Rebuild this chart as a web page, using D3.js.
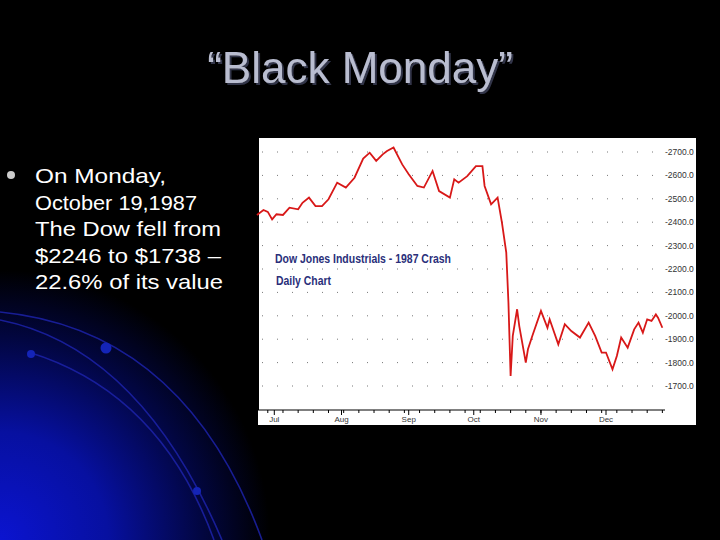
<!DOCTYPE html>
<html><head><meta charset="utf-8">
<script src="https://cdn.jsdelivr.net/npm/d3@7"></script>
<style>body{margin:0;background:#000}svg{display:block}</style>
</head><body>
<script>
const dates = ["1987-06-23","1987-06-26","1987-06-28","1987-06-30","1987-07-02","1987-07-05","1987-07-08","1987-07-12","1987-07-14","1987-07-17","1987-07-20","1987-07-23","1987-07-26","1987-07-30","1987-08-03","1987-08-07","1987-08-11","1987-08-14","1987-08-17","1987-08-20","1987-08-22","1987-08-25","1987-08-29","1987-09-01","1987-09-05","1987-09-08","1987-09-12","1987-09-15","1987-09-20","1987-09-22","1987-09-24","1987-09-28","1987-10-02","1987-10-05","1987-10-06","1987-10-09","1987-10-12","1987-10-14","1987-10-16","1987-10-17","1987-10-18","1987-10-19","1987-10-21","1987-10-22","1987-10-25","1987-10-26","1987-10-28","1987-11-01","1987-11-04","1987-11-05","1987-11-09","1987-11-12","1987-11-15","1987-11-19","1987-11-23","1987-11-26","1987-11-29","1987-12-01","1987-12-04","1987-12-06","1987-12-08","1987-12-11","1987-12-14","1987-12-16","1987-12-18","1987-12-20","1987-12-22","1987-12-24","1987-12-25","1987-12-27"];
const values = [2431,2452,2444,2412,2434,2431,2462,2455,2483,2505,2469,2469,2498,2569,2548,2590,2672,2697,2662,2690,2704,2719,2647,2605,2555,2548,2619,2533,2505,2583,2569,2597,2640,2640,2555,2476,2505,2398,2270,2056,1743,1914,2028,1956,1800,1857,1914,2021,1949,1985,1878,1964,1935,1907,1971,1914,1843,1843,1771,1828,1907,1864,1942,1971,1928,1985,1978,2006,1992,1949];
const yTicks = [2700,2600,2500,2400,2300,2200,2100,2000,1900,1800,1700];
const monthLabels = ["Jul","Aug","Sep","Oct","Nov","Dec"];
const bulletLines = ["On Monday,","October 19,1987","The Dow fell from","$2246 to $1738 –","22.6% of its value"];

const svg = d3.select("body").append("svg").attr("width",720).attr("height",540);
const defs = svg.append("defs");
const rg = defs.append("radialGradient").attr("id","bg").attr("gradientUnits","userSpaceOnUse")
  .attr("cx",0).attr("cy",540).attr("r",270);
rg.append("stop").attr("offset","0%").attr("stop-color","#0b14d0");
rg.append("stop").attr("offset","40%").attr("stop-color","#0710a0");
rg.append("stop").attr("offset","75%").attr("stop-color","#020640");
rg.append("stop").attr("offset","100%").attr("stop-color","#000");
const sh = defs.append("filter").attr("id","sh");
sh.append("feDropShadow").attr("dx",2).attr("dy",2).attr("stdDeviation",0.5).attr("flood-color","#30344a");
svg.append("rect").attr("width",720).attr("height",540).attr("fill","#000");
svg.append("rect").attr("y",270).attr("width",270).attr("height",270).attr("fill","url(#bg)");
const arcs = ["M0,312 Q185,330 262,540","M0,320 Q140,348 222,540","M28,352 Q160,392 214,540"];
svg.selectAll(".arc").data(arcs).join("path").attr("d",d=>d).attr("fill","none").attr("stroke","#1c22a8").attr("stroke-width",1.6).attr("opacity",0.85);
[[106,348,5.5],[31,354,4],[197,491,4]].forEach(c=>svg.append("circle").attr("cx",c[0]).attr("cy",c[1]).attr("r",c[2]).attr("fill","#1424b8"));

svg.append("text").attr("x",360).attr("y",83).attr("text-anchor","middle").attr("font-family","Liberation Sans, Arial").attr("font-size",44).attr("fill","#b9bdd0").attr("filter","url(#sh)").text("“Black Monday”");

svg.append("circle").attr("cx",11).attr("cy",175).attr("r",4).attr("fill","#ccc");
svg.selectAll(".bl").data(bulletLines).join("text").attr("x",35).attr("y",(d,i)=>183+i*26.5)
  .attr("font-family","Liberation Sans, Arial").attr("font-size",21).attr("fill","#fff")
  .attr("textLength",(d,i)=>[131,162,186,186,188][i]).attr("lengthAdjust","spacingAndGlyphs").text(d=>d);

// chart
svg.append("rect").attr("x",258).attr("y",138).attr("width",438).attr("height",287).attr("fill","#fff");
const parse = d3.timeParse("%Y-%m-%d");
const x = d3.scaleTime().domain([parse("1987-07-01"),parse("1987-12-01")]).range([274.3,606]);
const y = d3.scaleLinear().domain([1700,2700]).range([386,152]);
const g = svg.append("g");
g.selectAll(".gl").data(yTicks).join("line").attr("x1",262).attr("x2",660).attr("y1",d=>y(d)).attr("y2",d=>y(d))
  .attr("stroke","#777").attr("stroke-width",1).attr("stroke-dasharray","1,14");
g.selectAll(".yl").data(yTicks).join("text").attr("x",665).attr("y",d=>y(d)+3).attr("font-family","Liberation Sans, Arial")
  .attr("font-size",8.5).attr("fill","#333").text(d=>"-"+d.toFixed(1));
const xa = g.append("g").attr("transform","translate(0,410)");
xa.append("line").attr("x1",258).attr("x2",665).attr("stroke","#000");
const weeks = d3.timeWeek.range(parse("1987-06-25"),parse("1987-12-31"));
xa.selectAll(".wt").data(weeks).join("line").attr("x1",d=>x(d)).attr("x2",d=>x(d)).attr("y1",0).attr("y2",3).attr("stroke","#000");
const months = d3.timeMonth.range(parse("1987-07-01"),parse("1987-12-02"));
xa.selectAll(".mt").data(months).join("line").attr("x1",d=>x(d)).attr("x2",d=>x(d)).attr("y1",0).attr("y2",5).attr("stroke","#000");
xa.selectAll(".ml").data(months).join("text").attr("x",d=>x(d)).attr("y",12).attr("text-anchor","middle")
  .attr("font-family","Liberation Sans, Arial").attr("font-size",8).attr("fill","#333").text((d,i)=>monthLabels[i]);
g.append("line").attr("x1",258.5).attr("x2",258.5).attr("y1",138).attr("y2",410).attr("stroke","#000");

const data = dates.map((d,i)=>({d:parse(d),v:values[i]}));
g.append("path").datum(data).attr("d",d3.line().x(p=>x(p.d)).y(p=>y(p.v)))
  .attr("fill","none").attr("stroke","#d81818").attr("stroke-width",1.8);

g.append("text").attr("x",275).attr("y",263).attr("font-family","Liberation Sans, Arial").attr("font-size",12).attr("font-weight","bold").attr("fill","#2a2f7a")
  .attr("textLength",176).attr("lengthAdjust","spacingAndGlyphs").text("Dow Jones Industrials - 1987 Crash");
g.append("text").attr("x",276).attr("y",285).attr("font-family","Liberation Sans, Arial").attr("font-size",12).attr("font-weight","bold").attr("fill","#2a2f7a")
  .attr("textLength",55).attr("lengthAdjust","spacingAndGlyphs").text("Daily Chart");
</script>
</body></html>
